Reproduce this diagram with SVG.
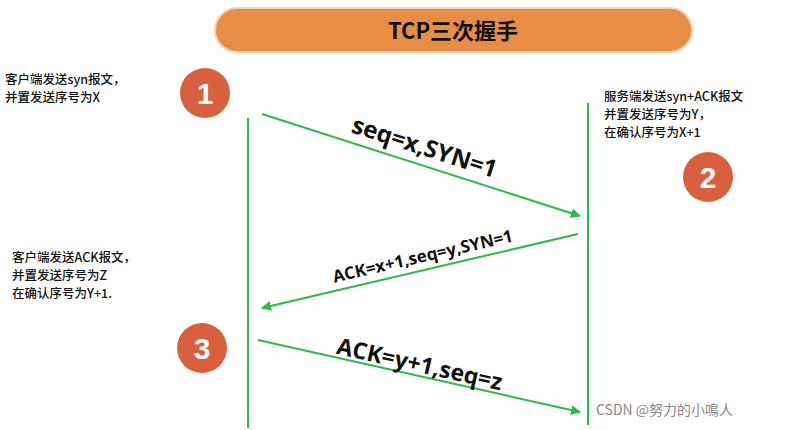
<svg xmlns="http://www.w3.org/2000/svg" width="803" height="430" viewBox="0 0 803 430">
<style>
.t{font-family:"Noto Sans CJK SC",sans-serif;font-size:12.5px;font-weight:500;fill:#111}
.l{font-family:"Open Sans","Noto Sans",sans-serif;font-weight:bold;fill:#111}
.c{fill:#d9603f}
.n{font-family:"Liberation Sans",sans-serif;font-weight:bold;font-size:30px;fill:#fff;text-anchor:middle}
.ln{stroke:#2db84b;stroke-width:2;fill:none}
</style>
<defs><marker id="a" markerWidth="10" markerHeight="10" refX="9" refY="5" orient="auto" markerUnits="userSpaceOnUse"><path d="M0,0 L10,5 L0,10 Z" fill="#2db84b"/></marker></defs>
<rect width="803" height="430" fill="#fff"/>
<g id="title"><rect x="215" y="8" width="477" height="44" rx="22" fill="#e88d46" stroke="#f3d3b5" stroke-width="2"/><text x="453" y="39" text-anchor="middle" font-family="Noto Sans CJK SC,sans-serif" font-weight="bold" font-size="22" fill="#111">TCP三次握手</text></g>
<g id="connectors">
<line class="ln" x1="248" y1="118" x2="248" y2="428"/>
<line class="ln" x1="588" y1="103" x2="588" y2="425"/>
<line class="ln" x1="262" y1="114" x2="580" y2="216" marker-end="url(#a)"/>
<line class="ln" x1="578" y1="234" x2="262" y2="308" marker-end="url(#a)"/>
<line class="ln" x1="258" y1="340" x2="580" y2="412" marker-end="url(#a)"/>
<text class="l" font-size="24" transform="translate(422,155) rotate(17.8)" text-anchor="middle">seq=x,SYN=1</text>
<text class="l" font-size="17" transform="translate(424,262) rotate(-13)" text-anchor="middle">ACK=x+1,seq=y,SYN=1</text>
<text class="l" font-size="23" transform="translate(418,372) rotate(12.6)" text-anchor="middle">ACK=y+1,seq=z</text>
</g>
<g id="n1"><circle class="c" cx="205" cy="93" r="25"/><text class="n" x="205" y="104">1</text></g>
<g id="n2"><circle class="c" cx="708" cy="177" r="25"/><text class="n" x="708" y="188">2</text></g>
<g id="n3"><circle class="c" cx="202" cy="348" r="25"/><text class="n" x="202" y="359">3</text></g>
<g id="t1"><text class="t" x="5" y="84">客户端发送syn报文，</text><text class="t" x="5" y="102">并置发送序号为X</text></g>
<g id="t2"><text class="t" x="604" y="101">服务端发送syn+ACK报文</text><text class="t" x="604" y="119">并置发送序号为Y，</text><text class="t" x="604" y="137">在确认序号为X+1</text></g>
<g id="t3"><text class="t" x="12" y="262">客户端发送ACK报文，</text><text class="t" x="12" y="280">并置发送序号为Z</text><text class="t" x="12" y="298">在确认序号为Y+1.</text></g>
<text x="596" y="415" font-family="Noto Sans CJK SC,sans-serif" font-size="14" fill="#888">CSDN @努力的小鳴人</text>
</svg>
